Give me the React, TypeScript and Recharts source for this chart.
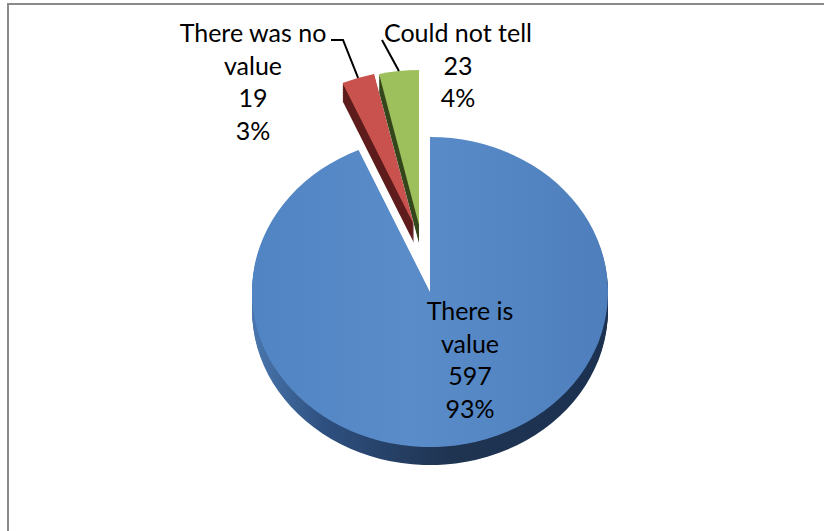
import { useEffect } from 'react';
import { PieChart, Pie, Cell } from 'recharts';

// data
const categories = ['There is value', 'There was no value', 'Could not tell'];
const counts = [597, 19, 23];
const data = categories.map((name, i) => ({ name, value: counts[i] }));

// layout
const W = 824;
const H = 531;
const CX = 430;
const CY = 292;
const R = 178;
const K = 0.871; // vertical squash of the pie face (ellipse)
const DEPTH = 18; // side wall height on screen
const FONT = 'Lato, "Open Sans", sans-serif';
const LINE_H = 32.6;
const NO_MARGIN = { top: 0, right: 0, bottom: 0, left: 0 };

const TOP_COLORS = ['url(#blueTop)', '#c9524f', '#9dbf5c'];
const SIDE_COLORS = ['url(#blueSide)', '#5e1d1c', '#35471c'];
// screen offset of each exploded slice
const EXPLODE = [
  { dx: 0, dy: 0 },
  { dx: -16, dy: -67 },
  { dx: -11, dy: -67 },
];
const LABEL_POS = [
  { x: 470, y: 310, wrap: 8, leader: [] as number[][] },
  { x: 253, y: 32, wrap: 12, leader: [[331, 40], [343, 40]] },
  { x: 458, y: 32, wrap: 14, leader: [[382, 40]] },
];

// layers for the side wall, bottom first
const depthSteps: number[] = [];
for (let s = DEPTH; s > 0; s -= 1.5) depthSteps.push(s);

function wrap(text: string, max: number) {
  const lines: string[] = [];
  let cur = '';
  text.split(' ').forEach((w) => {
    const next = cur ? cur + ' ' + w : w;
    if (next.length > max && cur) {
      lines.push(cur);
      cur = w;
    } else cur = next;
  });
  if (cur) lines.push(cur);
  return lines;
}

function renderLabel(props: any) {
  const { cx, cy, midAngle, outerRadius, index, percent, value } = props;
  const name = props.payload?.name ?? props.name;
  const pos = LABEL_POS[index];
  const lines = [...wrap(name, pos.wrap), String(value), `${Math.round(percent * 100)}%`];
  const a = (-midAngle * Math.PI) / 180;
  const ex = cx + outerRadius * Math.cos(a) + EXPLODE[index].dx;
  const ey = cy + outerRadius * K * Math.sin(a) + EXPLODE[index].dy;
  const pts = pos.leader.length ? [...pos.leader, [ex, ey]] : [];
  return (
    <g key={`lbl-${index}`}>
      {pts.length > 0 && (
        <polyline
          points={pts.map((p) => p.join(',')).join(' ')}
          fill="none"
          stroke="#000"
          strokeWidth={2}
        />
      )}
      <text
        x={pos.x}
        y={pos.y}
        textAnchor="middle"
        fontFamily={FONT}
        fontSize={25}
        fill="#000"
      >
        {lines.map((l, j) => (
          <tspan key={j} x={pos.x} y={pos.y + j * LINE_H} dominantBaseline="central">
            {l}
          </tspan>
        ))}
      </text>
    </g>
  );
}

function slicePie(slice: number, offset: number, colors: string[], key: string) {
  const e = EXPLODE[slice];
  return (
    <Pie
      key={key}
      data={data}
      dataKey="value"
      nameKey="name"
      cx={CX + e.dx}
      cy={CY + (e.dy + offset) / K}
      outerRadius={R}
      startAngle={90}
      endAngle={-270}
      stroke="none"
      label={false}
      labelLine={false}
      isAnimationActive={false}
    >
      {data.map((_, i) => (
        <Cell key={i} fill={i === slice ? colors[i] : 'transparent'} />
      ))}
    </Pie>
  );
}

export default function App() {
  useEffect(() => {
    document.body.style.margin = '0';
    document.documentElement.style.overflow = 'hidden';
  }, []);

  const layers: JSX.Element[] = [];
  data.forEach((_, slice) => {
    depthSteps.forEach((s) => layers.push(slicePie(slice, s, SIDE_COLORS, `side-${slice}-${s}`)));
    layers.push(slicePie(slice, 0, TOP_COLORS, `top-${slice}`));
  });

  return (
    <div style={{ position: 'absolute', left: 0, top: 0, width: W, height: H, overflow: 'hidden', background: '#fff' }}>
      {/* chart frame: only its top and left edges are in view */}
      <div style={{ position: 'absolute', left: 7, top: 3, width: W, height: 2, background: '#8a8a8a' }} />
      <div style={{ position: 'absolute', left: 7, top: 3, width: 2, height: H, background: '#8a8a8a' }} />
      <div
        style={{
          position: 'absolute',
          left: 0,
          top: 0,
          transform: `scaleY(${K})`,
          transformOrigin: `0 ${CY}px`,
        }}
      >
        <PieChart width={W} height={H} margin={NO_MARGIN}>
          <defs>
            <linearGradient id="blueTop" x1="0" y1="0" x2="1" y2="0">
              <stop offset="0%" stopColor="#5184c2" />
              <stop offset="45%" stopColor="#5a8cca" />
              <stop offset="100%" stopColor="#4e7fbc" />
            </linearGradient>
            <linearGradient id="blueSide" x1="0" y1="0" x2="1" y2="0">
              <stop offset="0%" stopColor="#4a77ae" />
              <stop offset="20%" stopColor="#2e5080" />
              <stop offset="55%" stopColor="#1f3451" />
              <stop offset="100%" stopColor="#1c3150" />
            </linearGradient>
          </defs>
          {layers}
        </PieChart>
      </div>
      <div style={{ position: 'absolute', left: 0, top: 0 }}>
        <PieChart width={W} height={H} margin={NO_MARGIN}>
          <Pie
            data={data}
            dataKey="value"
            nameKey="name"
            cx={CX}
            cy={CY}
            outerRadius={R}
            startAngle={90}
            endAngle={-270}
            fill="none"
            stroke="none"
            label={renderLabel}
            labelLine={false}
            isAnimationActive={false}
          >
            {data.map((_, i) => (
              <Cell key={i} fill="transparent" />
            ))}
          </Pie>
        </PieChart>
      </div>
    </div>
  );
}
